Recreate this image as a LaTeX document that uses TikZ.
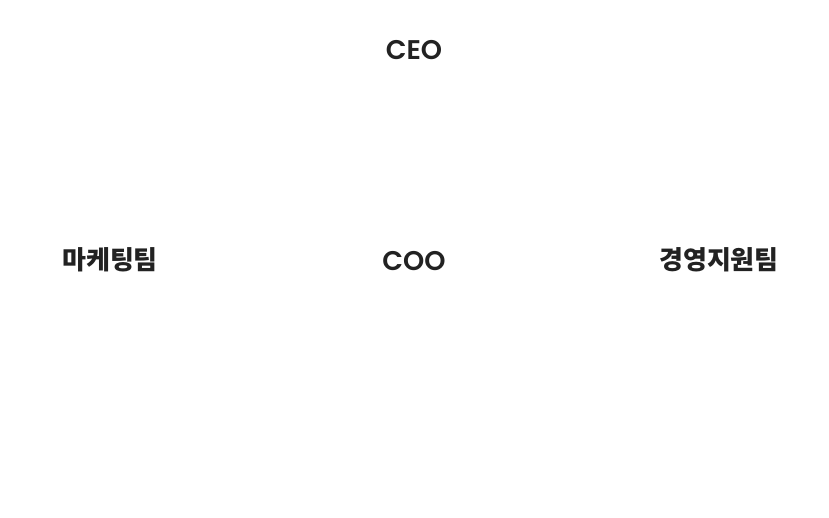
\documentclass[tikz,border=0pt]{standalone}
\usepackage{fontspec}
\setmainfont{Poppins}[BoldFont={Poppins SemiBold}]
\newfontfamily\kofont{Noto Sans CJK KR}
\definecolor{txt}{HTML}{222222}
\begin{document}
\begin{tikzpicture}[x=1pt,y=-1pt,
  latlabel/.style={font=\fontsize{27}{30}\selectfont\bfseries, text=txt, inner sep=0pt, anchor=base},
  kolabel/.style={font=\kofont\fontsize{26}{30}\selectfont\bfseries, text=txt, inner sep=0pt, anchor=base}]
\useasboundingbox[fill=white] (0,0) rectangle (829,518);
\node[latlabel] (ceo) at (414,60) {CEO};
\node[latlabel] (coo) at (414,270.5) {COO};
\node[kolabel] (mkt) at (110,270) {마케팅팀};
\node[kolabel] (mgmt) at (719,270) {경영지원팀};
\end{tikzpicture}
\end{document}
